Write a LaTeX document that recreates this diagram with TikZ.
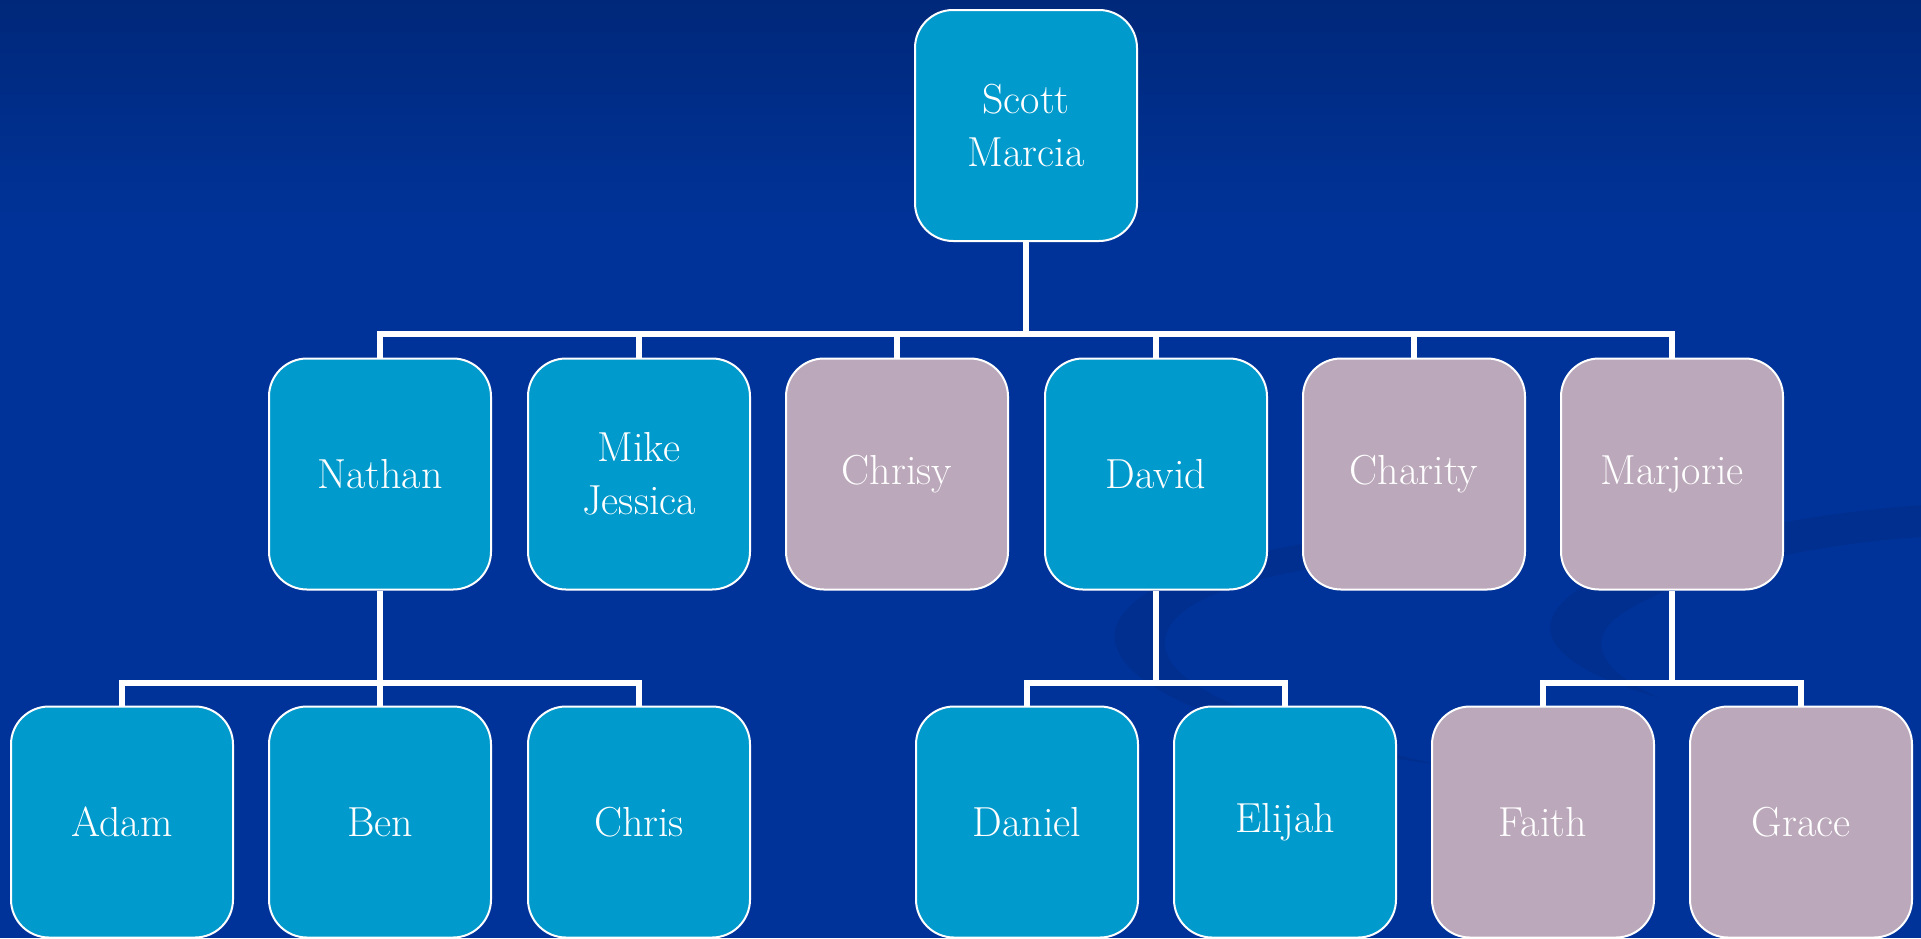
\documentclass[tikz,border=0pt]{standalone}
\usetikzlibrary{calc}
\definecolor{bgblue}{HTML}{003399}
\definecolor{bgtop}{HTML}{00287A}
\definecolor{swoosh}{HTML}{002F90}
\definecolor{boxblue}{HTML}{009ACC}
\definecolor{boxmauve}{HTML}{BBA8BA}
\tikzset{
  person/.style={rounded corners=38pt, draw=white, line width=2pt,
    minimum width=222pt, minimum height=231pt, text=white, align=center,
    inner sep=0pt, font=\fontsize{42}{53}\selectfont},
  bluebox/.style={person, fill=boxblue},
  mauvebox/.style={person, fill=boxmauve},
  conn/.style={draw=white, line width=6pt, line join=miter}
}
\begin{document}
\begin{tikzpicture}[x=1pt,y=-1pt]
\useasboundingbox (0,0) rectangle (1921,938);
% background
\fill[bgblue] (0,0) rectangle (1921,938);
\shade[top color=bgtop, bottom color=bgblue] (0,0) rectangle (1921,230);
% faint swoosh decoration
\fill[swoosh] (1500,528) .. controls (1300,530) and (1130,570) .. (1115,630)
  .. controls (1105,690) and (1250,740) .. (1440,765)
  .. controls (1280,728) and (1160,690) .. (1165,640)
  .. controls (1170,590) and (1300,558) .. (1500,553) -- cycle;
\fill[swoosh] (1921,505) .. controls (1750,518) and (1600,560) .. (1560,605)
  .. controls (1530,640) and (1570,672) .. (1660,698)
  .. controls (1600,672) and (1585,640) .. (1620,615)
  .. controls (1680,575) and (1800,545) .. (1921,537) -- cycle;
% nodes
\node[bluebox] (scott) at (1026,125.5) {Scott\\Marcia};
\node[bluebox] (nathan) at (380,474) {Nathan};
\node[bluebox] (mike) at (639,474) {Mike\\Jessica};
\node[mauvebox] (chrisy) at (897,474) {Chrisy};
\node[bluebox] (david) at (1156,474) {David};
\node[mauvebox] (charity) at (1414,474) {Charity};
\node[mauvebox] (marjorie) at (1672,474) {Marjorie};
\node[bluebox] (adam) at (122,822) {Adam};
\node[bluebox] (ben) at (380,822) {Ben};
\node[bluebox] (chris) at (639,822) {Chris};
\node[bluebox] (daniel) at (1027,822) {Daniel};
\node[bluebox] (elijah) at (1285,822) {Elijah};
\node[mauvebox] (faith) at (1543,822) {Faith};
\node[mauvebox] (grace) at (1801,822) {Grace};
% junction coordinates
\coordinate (j0) at ($(scott.south)+(0,92)$);
\coordinate (j1) at ($(nathan.south)+(0,92)$);
\coordinate (j2) at ($(david.south)+(0,92)$);
\coordinate (j3) at ($(marjorie.south)+(0,92)$);
% connectors
\foreach \c in {nathan,mike,chrisy,david,charity,marjorie}
  \draw[conn] (scott.south) -- (j0) -| (\c.north);
\foreach \c in {adam,ben,chris}
  \draw[conn] (nathan.south) -- (j1) -| (\c.north);
\foreach \c in {daniel,elijah}
  \draw[conn] (david.south) -- (j2) -| (\c.north);
\foreach \c in {faith,grace}
  \draw[conn] (marjorie.south) -- (j3) -| (\c.north);
\end{tikzpicture}
\end{document}
